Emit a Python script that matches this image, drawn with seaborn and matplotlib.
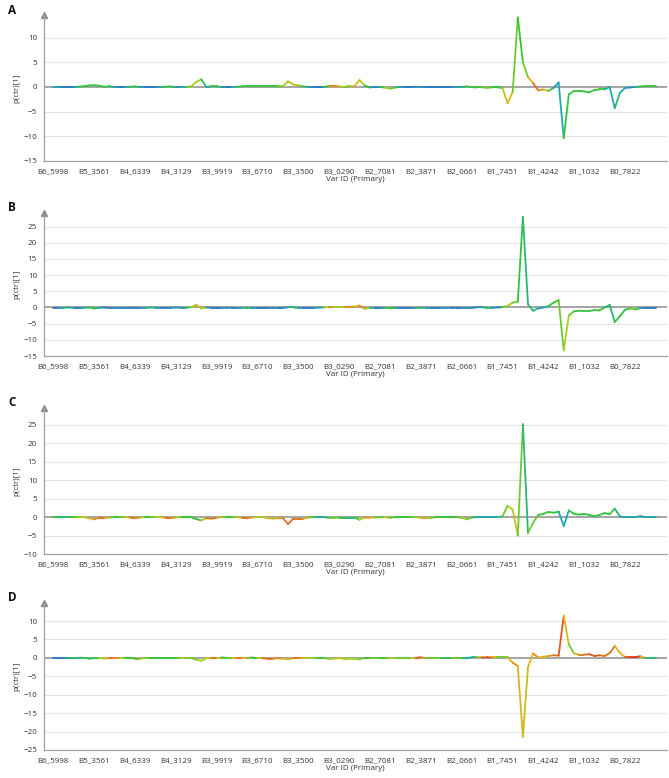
import matplotlib
matplotlib.use("Agg")
import matplotlib.pyplot as plt
import numpy as np
import pandas as pd
import seaborn as sns
from matplotlib.colors import LinearSegmentedColormap

# ---- data ----
tick_labels = ['B6_5998', 'B5_3561', 'B4_6339', 'B4_3129', 'B3_9919',
               'B3_6710', 'B3_3500', 'B3_0290', 'B2_7081', 'B2_3871',
               'B2_0661', 'B1_7451', 'B1_4242', 'B1_1032', 'B0_7822']
vars_per_tick = 8

# loadings p(ctr)[1] per variable, one list per panel
load_a = [0.0, 0.0, 0.0, 0.0, 0.0, 0.05, 0.15, 0.3, 0.35, 0.25,
          0.05, 0.15, 0.0, 0.0, 0.0, 0.05, 0.1, 0.0, 0.0, 0.0,
          0.0, 0.0, 0.05, 0.1, 0.0, 0.0, 0.0, 0.1, 1.0, 1.55,
          0.0, 0.1, 0.1, 0.0, 0.0, 0.0, 0.05, 0.1, 0.1, 0.1,
          0.1, 0.1, 0.1, 0.1, 0.1, 0.2, 1.15, 0.5, 0.3, 0.1,
          0.0, 0.0, 0.0, 0.0, 0.2, 0.25, 0.1, 0.0, 0.2, 0.15,
          1.4, 0.3, -0.1, 0.0, 0.0, -0.15, -0.35, -0.1, 0.0, 0.0,
          0.0, 0.05, 0.0, 0.0, 0.0, 0.0, 0.0, 0.0, 0.0, 0.0,
          0.0, 0.1, -0.05, -0.1, -0.1, -0.15, -0.1, -0.1, -0.2, -3.3,
          -1.0, 14.1, 5.0, 2.0, 0.8, -0.7, -0.5, -0.8, -0.2, 0.9,
          -10.4, -1.5, -0.8, -0.8, -0.9, -1.1, -0.6, -0.5, -0.5, 0.0,
          -4.3, -1.2, -0.2, -0.1, 0.0, 0.1, 0.2, 0.2, 0.2]
load_b = [-0.1, -0.1, -0.15, 0.0, -0.1, -0.1, -0.1, 0.0, -0.3, -0.1,
          0.0, -0.15, -0.1, -0.1, -0.1, -0.15, -0.1, -0.1, -0.15, 0.0,
          -0.1, -0.15, -0.1, -0.1, 0.0, -0.1, -0.1, 0.1, 0.8, -0.3,
          0.0, -0.1, -0.1, -0.1, -0.15, -0.1, -0.1, -0.1, -0.1, -0.1,
          -0.1, -0.1, -0.1, -0.2, -0.1, -0.1, 0.0, 0.0, -0.1, -0.15,
          -0.1, -0.1, -0.05, 0.0, 0.2, 0.1, 0.2, 0.15, 0.2, 0.3,
          0.6, -0.4, -0.1, -0.1, -0.1, -0.1, -0.25, -0.1, -0.1, -0.1,
          -0.1, -0.1, -0.15, -0.1, -0.1, -0.1, -0.1, -0.1, -0.15, -0.1,
          -0.1, -0.1, -0.1, 0.0, 0.0, -0.1, -0.1, 0.0, 0.1, 0.5,
          1.5, 1.8, 28.0, 1.0, -1.0, -0.3, 0.0, 0.4, 1.5, 2.3,
          -13.3, -2.5, -1.2, -1.0, -1.1, -1.1, -0.8, -0.9, 0.0, 0.8,
          -4.5, -2.7, -0.7, -0.3, -0.6, -0.2, -0.2, -0.2, -0.2]
load_c = [0.0, 0.0, 0.0, 0.0, 0.0, 0.0, 0.0, -0.3, -0.6, -0.2,
          -0.3, -0.1, 0.0, 0.0, 0.0, -0.1, -0.3, -0.1, 0.0, 0.0,
          0.0, 0.0, -0.2, -0.3, -0.1, 0.0, 0.0, 0.0, -0.5, -0.9,
          -0.3, -0.4, -0.2, 0.0, 0.0, 0.0, 0.0, -0.2, -0.3, -0.1,
          0.0, 0.0, -0.3, -0.4, -0.3, -0.3, -1.9, -0.4, -0.4, -0.4,
          -0.1, 0.0, 0.0, 0.0, -0.2, -0.2, -0.1, -0.1, -0.1, -0.1,
          -0.7, -0.1, -0.2, -0.1, 0.0, 0.0, -0.2, 0.0, 0.0, 0.0,
          0.0, 0.0, -0.2, -0.3, -0.2, 0.0, 0.0, 0.0, 0.0, 0.0,
          -0.2, -0.6, -0.1, 0.0, 0.0, 0.0, 0.0, 0.0, 0.2, 3.1,
          2.0, -5.0, 25.2, -4.3, -1.5, 0.6, 0.9, 1.4, 1.2, 1.5,
          -2.4, 1.8, 0.9, 0.7, 0.9, 0.6, 0.2, 0.6, 1.1, 0.8,
          2.3, 0.2, 0.0, 0.0, 0.0, 0.3, 0.0, 0.0, 0.0]
load_d = [0.05, 0.05, 0.05, 0.05, 0.05, 0.05, 0.0, -0.2, -0.1, 0.0,
          -0.2, -0.1, 0.05, 0.05, 0.05, 0.0, -0.2, -0.2, -0.1, -0.1,
          -0.1, -0.1, -0.1, -0.1, 0.0, 0.0, -0.1, 0.0, -0.5, -0.8,
          -0.1, 0.0, -0.1, 0.1, 0.0, -0.1, -0.1, -0.1, 0.0, 0.1,
          -0.1, -0.1, -0.2, -0.2, -0.1, -0.2, -0.4, -0.1, -0.1, -0.1,
          -0.1, -0.1, -0.1, 0.0, -0.3, -0.2, -0.1, -0.2, -0.2, -0.3,
          -0.4, 0.0, 0.0, -0.1, -0.1, 0.0, 0.0, -0.1, -0.1, 0.0,
          -0.1, -0.1, 0.2, -0.1, 0.0, -0.1, -0.1, -0.1, -0.1, -0.1,
          -0.1, 0.0, 0.1, 0.1, 0.1, 0.2, 0.1, 0.1, 0.1, 0.1,
          -1.3, -2.2, -21.5, -2.5, 1.2, 0.1, 0.3, 0.5, 0.7, 0.6,
          11.4, 3.7, 1.2, 0.9, 0.9, 1.0, 0.5, 0.7, 0.5, 1.3,
          3.2, 1.4, 0.2, 0.2, 0.2, 0.45, 0.0, 0.0, 0.0]

# colour class per variable (0 blue ... 6 red)
col_a = [1, 1, 0, 0, 0, 2, 2, 2, 2, 2, 2, 2, 1, 0, 0, 2, 2, 1, 0, 0,
         0, 1, 2, 2, 1, 0, 2, 3, 3, 3, 0, 2, 2, 1, 0, 0, 2, 2, 2, 2,
         2, 2, 2, 2, 2, 3, 3, 4, 3, 2, 1, 0, 0, 0, 4, 5, 4, 2, 3, 4,
         4, 3, 1, 0, 1, 3, 3, 2, 1, 0, 0, 0, 1, 0, 0, 0, 0, 0, 0, 1,
         1, 2, 2, 2, 2, 3, 2, 2, 2, 5, 3, 2, 2, 3, 5, 5, 4, 3, 1, 0,
         2, 2, 2, 2, 2, 2, 2, 2, 2, 0, 2, 1, 1, 0, 1, 2, 2, 2, 2]
col_b = [0, 0, 1, 2, 0, 0, 1, 2, 2, 1, 0, 0, 0, 1, 0, 0, 0, 0, 1, 2,
         1, 0, 0, 0, 1, 0, 1, 3, 3, 5, 1, 0, 0, 0, 1, 0, 0, 1, 2, 1,
         0, 0, 0, 1, 0, 0, 1, 2, 1, 0, 0, 0, 1, 1, 5, 4, 2, 4, 5, 4,
         4, 5, 2, 0, 0, 1, 3, 1, 0, 0, 0, 1, 2, 1, 0, 0, 0, 1, 0, 0,
         0, 1, 0, 0, 1, 2, 1, 0, 1, 4, 3, 2, 2, 1, 2, 1, 0, 2, 2, 2,
         3, 3, 2, 2, 2, 2, 2, 2, 2, 1, 2, 2, 2, 2, 3, 1, 0, 0, 0]
col_c = [2, 2, 1, 2, 2, 3, 3, 4, 4, 5, 5, 3, 2, 2, 3, 5, 5, 4, 2, 2,
         3, 3, 5, 5, 4, 2, 2, 2, 2, 2, 5, 5, 5, 3, 2, 2, 3, 5, 5, 4,
         3, 3, 4, 3, 4, 5, 5, 5, 5, 5, 3, 2, 1, 1, 2, 3, 2, 2, 1, 2,
         2, 4, 5, 3, 2, 3, 3, 2, 2, 2, 2, 3, 4, 4, 3, 2, 2, 2, 2, 2,
         3, 3, 2, 1, 1, 1, 1, 1, 2, 3, 3, 4, 1, 2, 3, 2, 2, 2, 2, 2,
         0, 2, 2, 2, 2, 2, 2, 2, 2, 2, 2, 1, 1, 1, 1, 1, 1, 1, 1]
col_d = [0, 0, 0, 1, 2, 1, 2, 2, 1, 3, 3, 5, 5, 4, 2, 2, 2, 3, 3, 2,
         2, 2, 2, 2, 2, 3, 3, 2, 3, 3, 3, 5, 5, 2, 2, 3, 5, 5, 3, 2,
         2, 5, 5, 5, 4, 5, 3, 5, 5, 4, 3, 3, 2, 2, 3, 3, 4, 3, 3, 3,
         3, 2, 2, 3, 2, 2, 3, 3, 2, 3, 2, 5, 6, 3, 2, 3, 2, 1, 2, 3,
         2, 1, 1, 2, 5, 6, 5, 3, 2, 3, 5, 4, 4, 3, 5, 4, 4, 4, 5, 5,
         6, 2, 3, 5, 5, 5, 6, 5, 5, 5, 5, 3, 5, 6, 6, 6, 2, 1, 2]

panels = ['A', 'B', 'C', 'D']
loadings = [load_a, load_b, load_c, load_d]
colours = [col_a, col_b, col_c, col_d]
y_limits = [(-15, 14.6), (-15, 29.2), (-10, 29.6), (-25, 14.9)]
y_ticks = [np.arange(-15, 11, 5), np.arange(-15, 26, 5),
           np.arange(-10, 26, 5), np.arange(-25, 11, 5)]
# axes boxes in figure fractions (left, bottom, width, height)
boxes = [(0.0658, 0.7931, 0.931, 0.1877),
         (0.0658, 0.5424, 0.931, 0.1838),
         (0.0658, 0.2879, 0.931, 0.1877),
         (0.0658, 0.0360, 0.931, 0.1890)]
letter_y = [0.986, 0.733, 0.483, 0.232]

sns.set_style('white')
plt.rcParams['font.family'] = ['Open Sans', 'DejaVu Sans']

cmap = LinearSegmentedColormap.from_list(
    'simca', ['#2a78c6', '#1eaab0', '#34c43a', '#a6d01e', '#dcb418',
              '#e2701e', '#e03a1e'])

axis_grey = '#a0a0a0'
fig = plt.figure(figsize=(6.69, 7.78), dpi=100)

for name, vals, cols, ylim, yt, box, ly in zip(panels, loadings, colours,
                                                 y_limits, y_ticks, boxes,
                                                 letter_y):
    ax = fig.add_axes(box)
    n = len(vals)
    # one two-point segment per pair of neighbouring variables
    rows = []
    seg_cols = []
    for i in range(n - 1):
        rows.append((i, i, vals[i]))
        rows.append((i, i + 1, vals[i + 1]))
        seg_cols.append(cmap((cols[i] + cols[i + 1]) / 12.0))
    seg_df = pd.DataFrame(rows, columns=['seg', 'var', 'p'])

    for t in yt:
        if t != 0:
            ax.axhline(t, color='#e3e3e3', lw=0.8, zorder=0)
    ax.axhline(0, color='#8c8c8c', lw=1.1, zorder=1)

    sns.lineplot(data=seg_df, x='var', y='p', hue='seg', palette=seg_cols,
                 legend=False, estimator=None, sort=False, lw=1.3, ax=ax,
                 zorder=3)

    ax.set_yticks(yt)
    ax.set_yticks(np.arange(yt[0] + 2.5, ylim[1], 5), minor=True)
    ax.set_xticks(np.arange(len(tick_labels)) * vars_per_tick)
    ax.set_xticklabels(tick_labels)
    ax.set_xlim(-1.8, 120.2)
    ax.set_ylim(*ylim)
    ax.tick_params(axis='both', labelsize=5.8, colors='#333333',
                   length=3, width=0.7, pad=2)
    ax.tick_params(axis='both', which='both', color=axis_grey)
    ax.tick_params(axis='y', which='minor', length=2, width=0.6)
    ax.tick_params(axis='x', which='minor', length=0)
    for side in ['top', 'right']:
        ax.spines[side].set_visible(False)
    for side in ['left', 'bottom']:
        ax.spines[side].set_color(axis_grey)
        ax.spines[side].set_linewidth(0.9)
    ax.plot(0, 1.0, marker='^', color='#8c8c8c', ms=5,
            transform=ax.transAxes, clip_on=False)
    ax.set_xlabel('Var ID (Primary)', fontsize=5.8, color='#333333',
                  labelpad=1)
    ax.set_ylabel('p(ctr)[1]', fontsize=5.8, color='#333333', labelpad=2)
    fig.text(0.012, ly, name, fontsize=8.5, fontweight='bold',
             color='#111111', va='center', ha='left')

fig.savefig('out.png', dpi=100)
